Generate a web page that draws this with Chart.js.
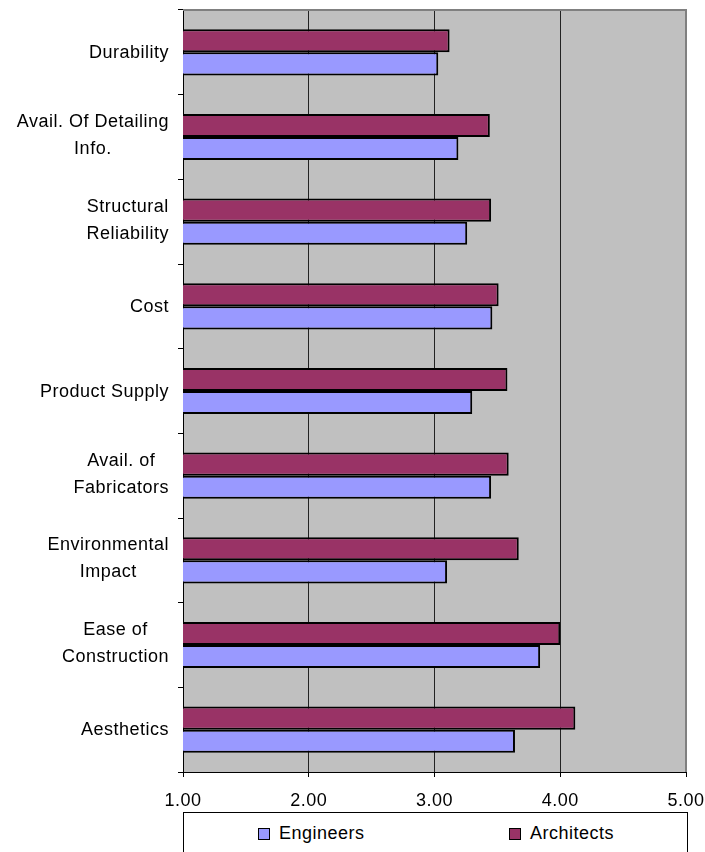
<!DOCTYPE html>
<html>
<head>
<meta charset="utf-8">
<script src="https://cdn.jsdelivr.net/npm/chart.js@4/dist/chart.umd.min.js"></script>
<style>
  html, body { margin:0; padding:0; background:#fff; overflow:hidden; }
  #wrap { position:relative; width:705px; height:852px; }
  #legend { position:absolute; left:183px; top:812px; width:505px; height:60px; border:1px solid #000; box-sizing:border-box; background:#fff; }
  .sw { position:absolute; top:15px; width:12px; height:12px; border:1px solid #000; box-sizing:border-box; }
  .lt { position:absolute; top:10px; font:18px "Liberation Sans", Arial, sans-serif; letter-spacing:0.5px; line-height:21px; color:#000; white-space:nowrap; }
</style>
</head>
<body>
<div id="wrap">
  <canvas id="c" width="705" height="852"></canvas>
  <div id="legend">
    <div class="sw" style="left:74px;background:#9999FF"></div>
    <div class="lt" style="left:95px">Engineers</div>
    <div class="sw" style="left:325px;background:#993366"></div>
    <div class="lt" style="left:346px">Architects</div>
  </div>
</div>
<script>
const categories = [
  ["Durability"],
  ["Avail. Of Detailing", "Info."],
  ["Structural", "Reliability"],
  ["Cost"],
  ["Product Supply"],
  ["Avail. of", "Fabricators"],
  ["Environmental", "Impact"],
  ["Ease of", "Construction"],
  ["Aesthetics"]
];
const engineers  = [3.03, 3.19, 3.26, 3.46, 3.30, 3.45, 3.10, 3.84, 3.64];
const architects = [3.12, 3.44, 3.45, 3.51, 3.58, 3.59, 3.67, 4.00, 4.12];
const xTicks = [1, 2, 3, 4, 5];

const FONT = '"Liberation Sans", Arial, sans-serif';

const plotDeco = {
  id: 'plotDeco',
  beforeDraw(chart) {
    const { ctx, chartArea: a } = chart;
    ctx.letterSpacing = '0.5px';
    ctx.save();
    ctx.fillStyle = '#C0C0C0';
    ctx.fillRect(a.left, a.top, a.right - a.left, a.bottom - a.top);
    ctx.restore();
  },
  afterDraw(chart) {
    const { ctx, chartArea: a } = chart;
    ctx.save();
    ctx.strokeStyle = '#808080';
    ctx.lineWidth = 2;
    ctx.beginPath();
    ctx.moveTo(a.left, a.top);
    ctx.lineTo(a.right, a.top);
    ctx.lineTo(a.right, a.bottom);
    ctx.stroke();
    // y category labels
    const ys = chart.scales.y;
    ctx.fillStyle = '#000';
    ctx.font = '18px ' + FONT;
    ctx.letterSpacing = '0.5px';
    ctx.textAlign = 'center';
    ctx.textBaseline = 'alphabetic';
    const right = 169;
    const lh = 27;
    categories.forEach((lines, i) => {
      const cy = ys.getPixelForValue(i);
      let maxW = 0;
      lines.forEach(l => { maxW = Math.max(maxW, ctx.measureText(l).width); });
      const cx = right - maxW / 2;
      const n = lines.length;
      const off = n === 1 ? 5.5 : 3.5;
      lines.forEach((l, k) => {
        ctx.fillText(l, cx, cy + off + (k - (n - 1) / 2) * lh);
      });
    });
    ctx.restore();
  }
};

new Chart(document.getElementById('c'), {
  type: 'bar',
  data: {
    labels: categories.map(c => c.join(' ')),
    datasets: [
      { label: 'Architects', data: architects, backgroundColor: '#993366', borderColor: '#000', borderWidth: 2, borderSkipped: false },
      { label: 'Engineers', data: engineers, backgroundColor: '#9999FF', borderColor: '#000', borderWidth: 2, borderSkipped: false }
    ]
  },
  options: {
    indexAxis: 'y',
    responsive: false,
    animation: false,
    devicePixelRatio: 1,
    layout: { padding: { top: 10, right: 19, left: 0, bottom: 0 } },
    datasets: { bar: { categoryPercentage: 0.545, barPercentage: 1.0 } },
    plugins: { legend: { display: false }, tooltip: { enabled: false } },
    scales: {
      x: {
        type: 'linear', min: 1, max: 5,
        afterBuildTicks: s => { s.ticks = xTicks.map(v => ({ value: v })); },
        ticks: { callback: v => Number(v).toFixed(2), color: '#000', font: { family: FONT, size: 18 }, padding: 13, maxRotation: 0, autoSkip: false },
        grid: {
          color: c => (c.tick && (c.tick.value === 1 || c.tick.value === 5)) ? 'rgba(0,0,0,0)' : '#222',
          tickColor: '#000', tickLength: 5, lineWidth: 1
        },
        border: { color: '#000', width: 1 },
        afterFit: s => { s.height = 80; s.paddingLeft = 0; s.paddingRight = 0; }
      },
      y: {
        type: 'category', offset: true,
        grid: { offset: true, drawOnChartArea: false, tickLength: 5, color: '#000' },
        border: { color: '#000', width: 1 },
        ticks: { display: false },
        afterFit: s => { s.width = 183; }
      }
    }
  },
  plugins: [plotDeco]
});
</script>
</body>
</html>
